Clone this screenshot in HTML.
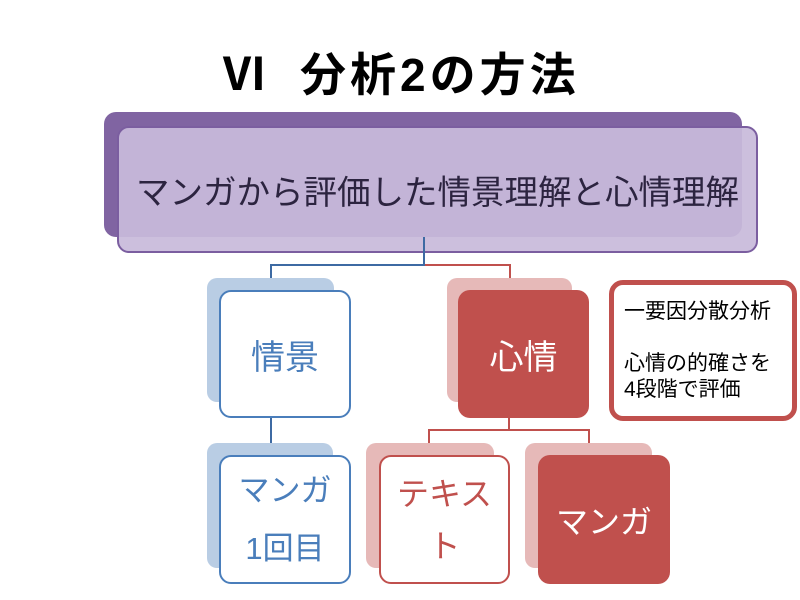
<!DOCTYPE html>
<html><head><meta charset="utf-8"><style>
body{margin:0;width:800px;height:600px;background:#fff;position:relative;overflow:hidden;font-family:"Liberation Sans","Noto Sans CJK JP",sans-serif}
.a{position:absolute;box-sizing:border-box}
.c{display:flex;align-items:center;justify-content:center;text-align:center}
</style></head><body>
<div class="a" style="left:222px;top:44px;width:50px;font-size:45px;font-weight:bold;color:#000;line-height:62px">Ⅵ</div>
<div class="a" style="left:300px;top:44px;width:400px;font-size:46px;font-weight:bold;color:#000;line-height:62px;white-space:nowrap;letter-spacing:4px">分析2の方法</div>

<div class="a" style="left:104px;top:112px;width:638px;height:125px;background:#8064a2;border-radius:12px"></div>
<div class="a c" style="left:117px;top:126px;width:641px;height:127px;background:rgba(200,186,218,0.93);border:2px solid #7b5ea0;border-radius:12px;font-size:33.5px;color:#2c2440">マンガから評価した情景理解と心情理解</div>

<div class="a" style="left:423px;top:237px;width:2px;height:29px;background:#3d6aa3"></div>
<div class="a" style="left:270px;top:264px;width:155px;height:2px;background:#3d6aa3"></div>
<div class="a" style="left:270px;top:264px;width:2px;height:14px;background:#3d6aa3"></div>
<div class="a" style="left:425px;top:264px;width:86px;height:2px;background:#c0504d"></div>
<div class="a" style="left:509px;top:264px;width:2px;height:14px;background:#c0504d"></div>

<div class="a" style="left:207px;top:278px;width:127px;height:124px;background:#b9cde4;border-radius:10px"></div>
<div class="a c" style="left:219px;top:290px;width:132px;height:128px;background:#fff;border:2px solid #4a7ebb;border-radius:12px;font-size:34px;color:#4a7ebb">情景</div>

<div class="a" style="left:447px;top:278px;width:125px;height:124px;background:#e6b9b8;border-radius:10px"></div>
<div class="a c" style="left:458px;top:290px;width:131px;height:128px;background:#c0504d;border-radius:12px;font-size:34px;color:#fff">心情</div>

<div class="a" style="left:609px;top:280px;width:188px;height:141px;background:#fff;border:5px solid #c0504d;border-radius:14px;font-size:21px;color:#000;line-height:26px;padding:14px 0 0 10px;white-space:nowrap">一要因分散分析<br><br>心情の的確さを<br>4段階で評価</div>

<div class="a" style="left:270px;top:418px;width:2px;height:37px;background:#3d6aa3"></div>
<div class="a" style="left:508px;top:418px;width:2px;height:13px;background:#c0504d"></div>
<div class="a" style="left:428px;top:429px;width:162px;height:2px;background:#c0504d"></div>
<div class="a" style="left:428px;top:429px;width:2px;height:14px;background:#c0504d"></div>
<div class="a" style="left:588px;top:429px;width:2px;height:14px;background:#c0504d"></div>

<div class="a" style="left:207px;top:443px;width:126px;height:125px;background:#b9cde4;border-radius:10px"></div>
<div class="a c" style="left:219px;top:455px;width:132px;height:129px;background:#fff;border:2px solid #4a7ebb;border-radius:12px;font-size:31px;color:#4a7ebb;line-height:58px">マンガ<br>1回目</div>

<div class="a" style="left:366px;top:443px;width:128px;height:125px;background:#e6b9b8;border-radius:10px"></div>
<div class="a c" style="left:379px;top:455px;width:131px;height:129px;background:#fff;border:2px solid #c0504d;border-radius:12px;font-size:32px;color:#c0504d;line-height:52px">テキス<br>ト</div>

<div class="a" style="left:525px;top:443px;width:127px;height:125px;background:#e6b9b8;border-radius:10px"></div>
<div class="a c" style="left:538px;top:455px;width:132px;height:129px;background:#c0504d;border-radius:12px;font-size:32px;color:#fff">マンガ</div>
</body></html>
